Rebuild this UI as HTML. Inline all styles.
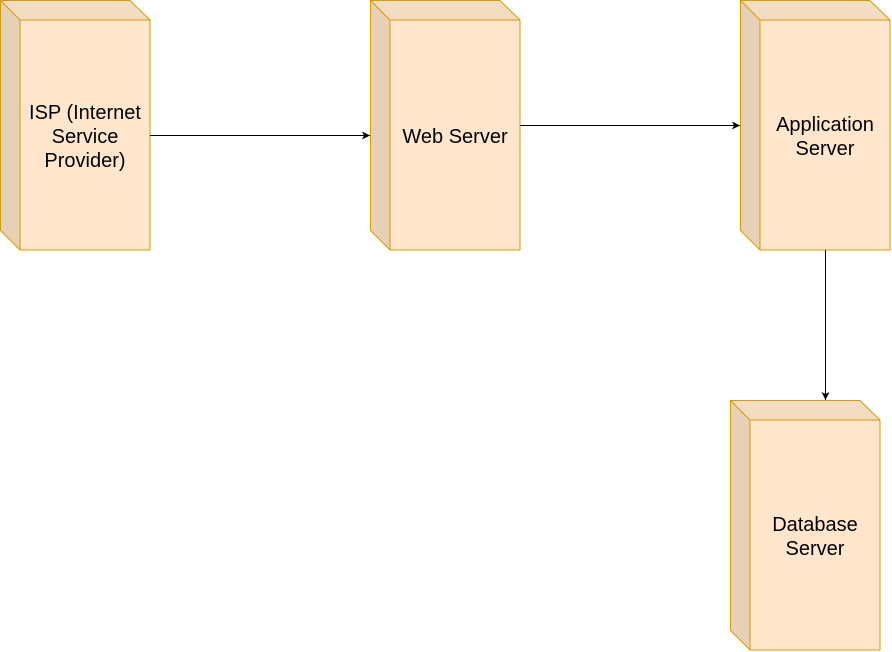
<!DOCTYPE html>
<html><head><meta charset="utf-8"><style>html,body{margin:0;padding:0;background:#fff;}svg{display:block}</style></head>
<body>
<svg width="892" height="652" viewBox="0 0 892 652" xmlns="http://www.w3.org/2000/svg" font-family="Liberation Sans, Arial, sans-serif" font-size="20">
<defs>
<g id="node">
<path d="M0.5 0.5 H130 L150 20 V250 H20 L0.5 230.5 Z" fill="#ffe6cc"/>
<path d="M0.5 0.5 H130 L150 20 H20 Z" fill="#f2dcc2"/>
<path d="M0.5 0.5 L20 20 V250 L0.5 230.5 Z" fill="#e6d0b6"/>
<path d="M0.5 0.5 H130 L150 20 V250 H20 L0.5 230.5 Z M0.5 0.5 L20 20 H150 M20 20 V250" fill="none" stroke="#d79b00" stroke-width="1"/>
</g>
<marker id="a" markerWidth="10" markerHeight="10" refX="8" refY="4" orient="auto" markerUnits="userSpaceOnUse"><path d="M0 0 L8 4 L0 8 L2 4 Z" fill="#000"/></marker>
</defs>
<use href="#node" x="0" y="0"/>
<use href="#node" x="370" y="0"/>
<use href="#node" x="740" y="0"/>
<use href="#node" x="730" y="400"/>
<g stroke="#000" stroke-width="1" fill="none">
<path d="M150 135.5 H370" marker-end="url(#a)"/>
<path d="M520 125.5 H740" marker-end="url(#a)"/>
<path d="M825.5 250 V400" marker-end="url(#a)"/>
</g>
<g text-anchor="middle" fill="#000">
<text x="85" y="119">ISP (Internet</text>
<text x="85" y="143">Service</text>
<text x="85" y="167">Provider)</text>
<text x="455" y="143">Web Server</text>
<text x="825" y="131">Application</text>
<text x="825" y="155">Server</text>
<text x="815" y="531">Database</text>
<text x="815" y="555">Server</text>
</g>
</svg>
</body></html>
